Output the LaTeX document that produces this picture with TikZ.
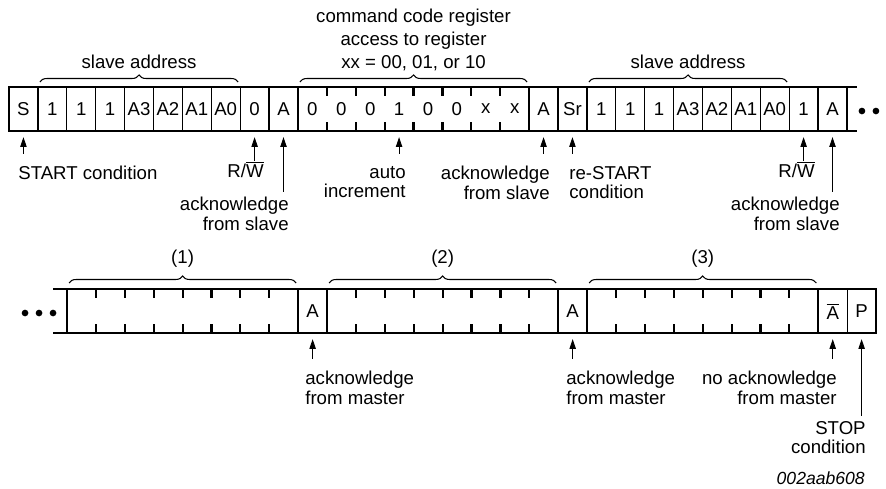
\documentclass[tikz,border=0pt]{standalone}
\usepackage{fontspec}
\setmainfont{Liberation Sans}
\usetikzlibrary{positioning,calc,arrows.meta,decorations.pathreplacing}

\begin{document}
\begin{tikzpicture}[x=0.02cm, y=-0.02cm, font=\fontsize{10.6}{10.9}\selectfont,
        cellnode/.style={rectangle, draw=black, line width=0.75pt, minimum width=0.578cm, minimum height=0.88cm, inner sep=0pt, outer sep=0pt},
        bitnode/.style={cellnode, draw=none},
        groupnode/.style={rectangle, draw=black, line width=1.25pt, minimum width=4.624cm, minimum height=0.88cm, inner sep=0pt, outer sep=0pt},
        rowline/.style={line width=1.25pt},
        tickline/.style={line width=1.25pt},
        bracepath/.style={decorate, decoration={brace, amplitude=4pt}, line width=0.6pt},
        lbl/.style={inner sep=0pt},
        arr/.style={-{Triangle[length=5.5pt, width=3.6pt]}, line width=0.5pt, shorten >=3.5pt},
        dotnode/.style={circle, fill=black, inner sep=0pt, minimum size=3.8pt}]

        \useasboundingbox (0,0) rectangle (886,488);

        % first transfer: slave address, command code, restart
        \node[cellnode] (t0) at (23.45,109) {S};
        \node[cellnode] (t1) [right=0pt of t0] {1};
        \node[cellnode] (t2) [right=0pt of t1] {1};
        \node[cellnode] (t3) [right=0pt of t2] {1};
        \node[cellnode] (t4) [right=0pt of t3] {A3};
        \node[cellnode] (t5) [right=0pt of t4] {A2};
        \node[cellnode] (t6) [right=0pt of t5] {A1};
        \node[cellnode] (t7) [right=0pt of t6] {A0};
        \node[cellnode] (t8) [right=0pt of t7] {0};
        \node[cellnode] (t9) [right=0pt of t8] {A};
        \node[bitnode] (t10) [right=0pt of t9] {0};
        \node[bitnode] (t11) [right=0pt of t10] {0};
        \node[bitnode] (t12) [right=0pt of t11] {0};
        \node[bitnode] (t13) [right=0pt of t12] {1};
        \node[bitnode] (t14) [right=0pt of t13] {0};
        \node[bitnode] (t15) [right=0pt of t14] {0};
        \node[bitnode] (t16) [right=0pt of t15] {x};
        \node[bitnode] (t17) [right=0pt of t16] {x};
        \node[cellnode] (t18) [right=0pt of t17] {A};
        \node[cellnode] (t19) [right=0pt of t18] {Sr};
        \node[cellnode] (t20) [right=0pt of t19] {1};
        \node[cellnode] (t21) [right=0pt of t20] {1};
        \node[cellnode] (t22) [right=0pt of t21] {1};
        \node[cellnode] (t23) [right=0pt of t22] {A3};
        \node[cellnode] (t24) [right=0pt of t23] {A2};
        \node[cellnode] (t25) [right=0pt of t24] {A1};
        \node[cellnode] (t26) [right=0pt of t25] {A0};
        \node[cellnode] (t27) [right=0pt of t26] {1};
        \node[cellnode] (t28) [right=0pt of t27] {A};

        \draw[rowline] (t0.north west) -- ($(t28.north east)+(10,0)$);
        \draw[rowline] (t0.south west) -- ($(t28.south east)+(10,0)$);
        \draw[rowline] (t10.north west) rectangle (t17.south east);
        \foreach \i in {10,...,16} {
            \draw[tickline] (t\i.north east) -- ++(0,9);
            \draw[tickline] (t\i.south east) -- ++(0,-9);
        }
        \node[dotnode] (td1) at ($(t28.east)+(15,2)$) {};
        \node[dotnode] (td2) at ($(t28.east)+(29,2)$) {};

        \draw[bracepath] ($(t1.north west)+(2,-5)$) -- ($(t7.north east)+(-2,-5)$);
        \node[lbl, anchor=base] (saddr1) at ($(t1.north west)!0.5!(t7.north east)+(0,-19)$) {slave address};
        \draw[bracepath] ($(t10.north west)+(2,-5)$) -- ($(t17.north east)+(-2,-5)$);
        \node[lbl, anchor=north, align=center, font=\fontsize{10.6}{13.1}\selectfont] (cmd) at ($(t10.north west)!0.5!(t17.north east)+(0,-78)$) {command code register\\access to register\\xx = 00, 01, or 10};
        \draw[bracepath] ($(t20.north west)+(2,-5)$) -- ($(t26.north east)+(-2,-5)$);
        \node[lbl, anchor=base] (saddr2) at ($(t20.north west)!0.5!(t26.north east)+(0,-19)$) {slave address};

        \node[lbl, anchor=north west] (startc) at (18,166) {START condition};
        \node[lbl, anchor=north east] (rw1) at (264,161) {R/$\overline{\mbox{W}}$};
        \node[lbl, anchor=north east, align=right] (ack1) at (289,197) {acknowledge\\from slave};
        \node[lbl, anchor=north east, align=right] (autoinc) at (406,166) {auto\\increment};
        \node[lbl, anchor=north east, align=right] (ack2) at (550,166) {acknowledge\\from slave};
        \node[lbl, anchor=north west, align=left] (restart) at (569,166) {re-START\\condition};
        \node[lbl, anchor=north east] (rw2) at (815,161) {R/$\overline{\mbox{W}}$};
        \node[lbl, anchor=north east, align=right] (ack3) at (840,197) {acknowledge\\from slave};

        \draw[arr, shorten <=7pt] (startc.north -| t0) -- (t0.south);
        \draw[arr] (rw1.north -| t8) -- (t8.south);
        \draw[arr, shorten <=3pt] (ack1.north -| t9) -- (t9.south);
        \draw[arr, shorten <=7pt] (autoinc.north -| t13) -- (t13.south);
        \draw[arr, shorten <=7pt] (ack2.north -| t18) -- (t18.south);
        \draw[arr, shorten <=7pt] (restart.north -| t19) -- (t19.south);
        \draw[arr] (rw2.north -| t27) -- (t27.south);
        \draw[arr, shorten <=3pt] (ack3.north -| t28) -- (t28.south);

        % second transfer: data bytes and stop
        \node[groupnode] (g1) at (182.6,311) {};
        \node[cellnode] (b1) [right=0pt of g1] {A};
        \node[groupnode] (g2) [right=0pt of b1] {};
        \node[cellnode] (b2) [right=0pt of g2] {A};
        \node[groupnode] (g3) [right=0pt of b2] {};
        \node[cellnode] (b3) [right=0pt of g3] {$\overline{\mbox{A}}$};
        \node[cellnode] (b4) [right=0pt of b3] {P};

        \draw[rowline] ($(g1.north west)+(-14,0)$) -- (b4.north east);
        \draw[rowline] ($(g1.south west)+(-14,0)$) -- (b4.south east);
        \foreach \g in {g1,g2,g3} {
            \foreach \k in {1,...,7} {
                \draw[tickline] ($(\g.north west)!\k/8!(\g.north east)$) -- ++(0,9);
                \draw[tickline] ($(\g.south west)!\k/8!(\g.south east)$) -- ++(0,-9);
            }
        }
        \node[dotnode] (bd1) at ($(g1.west)+(-42,2)$) {};
        \node[dotnode] (bd2) at ($(g1.west)+(-28,2)$) {};
        \node[dotnode] (bd3) at ($(g1.west)+(-14,2)$) {};

        \draw[bracepath] ($(g1.north west)+(2,-6)$) -- ($(g1.north east)+(-2,-6)$);
        \node[lbl, anchor=base] (byte1) at ($(g1.north)+(0,-26)$) {(1)};
        \draw[bracepath] ($(g2.north west)+(2,-6)$) -- ($(g2.north east)+(-2,-6)$);
        \node[lbl, anchor=base] (byte2) at ($(g2.north)+(0,-26)$) {(2)};
        \draw[bracepath] ($(g3.north west)+(2,-6)$) -- ($(g3.north east)+(-2,-6)$);
        \node[lbl, anchor=base] (byte3) at ($(g3.north)+(0,-26)$) {(3)};

        \node[lbl, anchor=north west, align=left] (mack1) at (305,371) {acknowledge\\from master};
        \node[lbl, anchor=north west, align=left] (mack2) at (566,371) {acknowledge\\from master};
        \node[lbl, anchor=north east, align=right] (nack) at (837,371) {no acknowledge\\from master};
        \node[lbl, anchor=north east, align=right] (stopc) at (866,421) {STOP\\condition};
        \node[lbl, anchor=north east, font=\fontsize{10}{12}\selectfont\itshape] (figid) at (865,471) {002aab608};

        \draw[arr, shorten <=7pt] (mack1.north -| b1) -- (b1.south);
        \draw[arr, shorten <=7pt] (mack2.north -| b2) -- (b2.south);
        \draw[arr, shorten <=7pt] (nack.north -| b3) -- (b3.south);
        \draw[arr, shorten <=3pt] (stopc.north -| b4) -- (b4.south);

        \end{tikzpicture}
\end{document}
